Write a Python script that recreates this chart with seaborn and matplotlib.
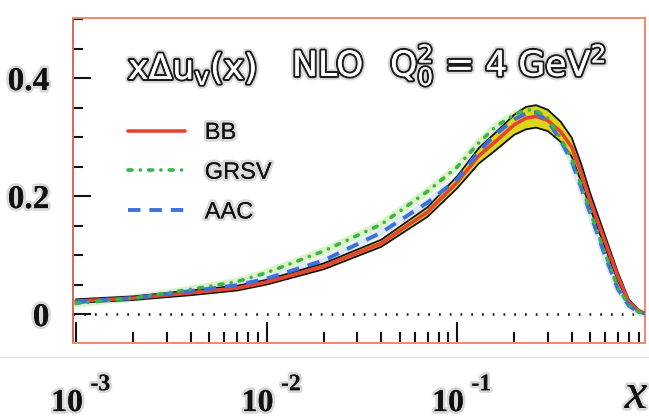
import numpy as np
import pandas as pd
import matplotlib
matplotlib.use("Agg")
import matplotlib.pyplot as plt
import matplotlib.patheffects as pe
from matplotlib.lines import Line2D
from matplotlib.ticker import FixedLocator, LogLocator, MultipleLocator, NullFormatter
import seaborn as sns

# ---- data: x * Delta u_v(x) at Q0^2 = 4 GeV^2 (NLO) ----
x_vals = [0.001, 0.002, 0.004, 0.007, 0.01, 0.02, 0.04, 0.07, 0.1, 0.13, 0.16,
          0.2, 0.23, 0.26, 0.3, 0.35, 0.4, 0.45, 0.5, 0.6, 0.7, 0.8, 0.9, 0.97]
bb = [0.022, 0.027, 0.036, 0.044, 0.054, 0.081, 0.120, 0.173, 0.223, 0.268, 0.293,
      0.321, 0.332, 0.335, 0.328, 0.309, 0.283, 0.238, 0.192, 0.122, 0.063, 0.020, 0.005, 0.001]
bb_hi = [0.025, 0.030, 0.040, 0.048, 0.058, 0.086, 0.126, 0.181, 0.233, 0.281, 0.308,
         0.338, 0.351, 0.354, 0.346, 0.326, 0.299, 0.253, 0.205, 0.132, 0.070, 0.024, 0.007, 0.002]
bb_lo = [0.019, 0.024, 0.032, 0.040, 0.050, 0.076, 0.114, 0.165, 0.213, 0.255, 0.278,
         0.304, 0.313, 0.316, 0.310, 0.292, 0.267, 0.223, 0.179, 0.112, 0.056, 0.016, 0.003, 0.000]
grsv = [0.018, 0.027, 0.042, 0.055, 0.070, 0.107, 0.152, 0.208, 0.249, 0.290, 0.318,
        0.338, 0.346, 0.345, 0.332, 0.298, 0.263, 0.217, 0.174, 0.102, 0.044, 0.015, 0.003, 0.001]
aac = [0.021, 0.027, 0.039, 0.049, 0.060, 0.091, 0.138, 0.189, 0.228, 0.275, 0.305,
       0.330, 0.340, 0.342, 0.327, 0.294, 0.259, 0.213, 0.171, 0.098, 0.042, 0.014, 0.003, 0.001]
series_names = ["BB", "GRSV", "AAC"]
y_ticks = [0.0, 0.2, 0.4]
y_tick_labels = ["0", "0.2", "0.4"]
x_decades = [-3, -2, -1]

df = pd.DataFrame({"x": x_vals, "BB": bb, "BB_hi": bb_hi, "BB_lo": bb_lo,
                   "GRSV": grsv, "AAC": aac})

sns.set_style("white")
plt.rcParams["font.family"] = ["DejaVu Sans"]
plt.rcParams["mathtext.default"] = "regular"

W, H = 649, 419
fig = plt.figure(figsize=(W / 100, H / 100), dpi=100)
ax = fig.add_axes([73 / W, 1 - 343 / H, (645 - 73) / W, (343 - 18) / H])

glow = [pe.withStroke(linewidth=4, foreground="#d9d9d9"), pe.Normal()]

# soft halos behind the comparison curves
sns.lineplot(data=df, x="x", y="GRSV", ax=ax, color="#dcf3c6", lw=5.5, zorder=1.5)
sns.lineplot(data=df, x="x", y="AAC", ax=ax, color="#dde9f8", lw=5.0, zorder=1.6)

# uncertainty band of BB with black edges
ax.fill_between(df["x"], df["BB_lo"], df["BB_hi"], color="#dcd71a", lw=0, zorder=2)
for col in ["BB_hi", "BB_lo"]:
    sns.lineplot(data=df, x="x", y=col, ax=ax, color="#111111", lw=1.3, zorder=3)

# central BB curve
sns.lineplot(data=df, x="x", y="BB", ax=ax, color="#e8432f", lw=2.6, zorder=5, label="BB")

# GRSV: green dash-dot
sns.lineplot(data=df, x="x", y="GRSV", ax=ax, color="#38b448", lw=2.6, zorder=7,
             linestyle=(0, (1.1, 2.3, 0.01, 2.3)), dash_capstyle="round", label="GRSV")

# AAC: blue dashed
sns.lineplot(data=df, x="x", y="AAC", ax=ax, color="#3d70d8", lw=2.8, zorder=6,
             linestyle=(0, (3.2, 2.3)), label="AAC")

# dotted zero line
ax.axhline(0, color="#111111", lw=1.8, ls=(0, (0.7, 3.6)), zorder=1)

ax.set_xscale("log")
ax.set_xlim(9.64e-4, 0.97)
ax.set_ylim(-0.049, 0.5017)
ax.set_xlabel("")
ax.set_ylabel("")

ax.xaxis.set_major_locator(FixedLocator([10.0 ** e for e in x_decades]))
ax.xaxis.set_minor_locator(LogLocator(base=10, subs=np.arange(2, 10)))
ax.xaxis.set_minor_formatter(NullFormatter())
ax.set_yticks(y_ticks, y_tick_labels)
ax.yaxis.set_minor_locator(MultipleLocator(0.05))

ax.tick_params(axis="x", which="both", direction="in", bottom=True, top=False,
               labelbottom=False, color="#111111", width=1.5)
ax.tick_params(axis="x", which="major", length=15)
ax.tick_params(axis="x", which="minor", length=8)
ax.tick_params(axis="y", which="both", direction="in", left=True, right=False,
               color="#111111", width=1.5, pad=17)
ax.tick_params(axis="y", which="major", length=13)
ax.tick_params(axis="y", which="minor", length=7)
for lab in ax.get_yticklabels():
    lab.set_fontfamily("Liberation Serif")
    lab.set_fontweight("bold")
    lab.set_fontsize(24)
    lab.set_color("#111111")
    lab.set_path_effects(glow)

for sp in ax.spines.values():
    sp.set_color("#ee8a6c")
    sp.set_linewidth(1.4)
ax.spines["left"].set_color("#d9665c")

# decade labels 10^-n below the axis
for e in x_decades:
    ax.annotate("10", xy=(10.0 ** e, 0), xycoords=("data", "axes fraction"),
                xytext=(-6.5, -49), textcoords="offset points", ha="center", va="baseline",
                fontfamily="Liberation Serif", fontweight="bold", fontsize=23,
                color="#111111", path_effects=glow, annotation_clip=False)
    ax.annotate(f"-{-e}", xy=(10.0 ** e, 0), xycoords=("data", "axes fraction"),
                xytext=(17.5, -34), textcoords="offset points", ha="center", va="baseline",
                fontfamily="Liberation Serif", fontweight="bold", fontsize=17,
                color="#111111", path_effects=glow, annotation_clip=False)

# axis variable at the right end
fig.text(636 / W, 1 - 408 / H, "x", ha="center", va="baseline",
         fontfamily="Liberation Serif", fontstyle="italic", fontsize=36,
         color="#111111", path_effects=glow)

# hollow-lettered heading
hollow = [pe.withStroke(linewidth=6, foreground="#dadada"),
          pe.withStroke(linewidth=3.0, foreground="#1c1c1c"), pe.Normal()]
head_kw = dict(fontfamily="DejaVu Sans", fontsize=25, color="white", va="baseline",
               ha="left", path_effects=hollow)
fig.text(128 / W, 1 - 79 / H, r"x$\Delta$u$_{v}$(x)", **head_kw)
fig.text(292 / W, 1 - 76 / H, "NLO", **head_kw)
fig.text(390 / W, 1 - 76 / H, r"Q$_0^2$ = 4 GeV$^2$", **head_kw)

# legend
leg = ax.legend(loc="upper left", bbox_to_anchor=((128 - 73) / 572, (343 - 122) / 325),
                frameon=False, borderpad=0, borderaxespad=0, handlelength=2.4,
                handletextpad=0.85, labelspacing=0.75,
                prop={"family": "Liberation Sans", "size": 17})
for t in leg.get_texts():
    t.set_color("#111111")
    t.set_path_effects(glow)

# faint rule under the panel
fig.add_artist(Line2D([0, 1], [1 - 357 / H, 1 - 357 / H], transform=fig.transFigure,
                      color="#e4e4e4", lw=1.0))

fig.savefig("out.png", dpi=100, facecolor="white")
